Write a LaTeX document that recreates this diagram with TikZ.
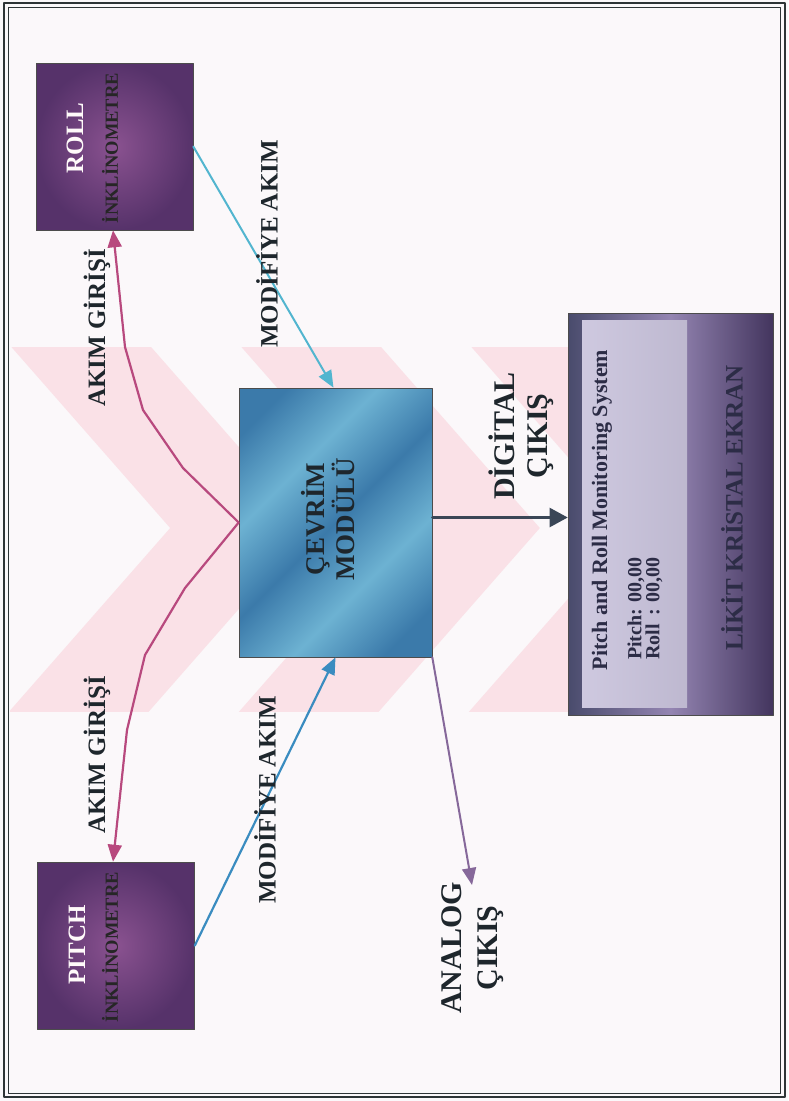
\documentclass[tikz,border=0pt]{standalone}
\usepackage{fontspec}
\setmainfont{Liberation Serif}
\usetikzlibrary{arrows.meta,calc,positioning}
\definecolor{cerceve}{HTML}{2E3436}
\definecolor{zemin}{HTML}{FBF8FA}
\definecolor{filigran}{HTML}{FAE1E7}
\definecolor{morkoyu}{HTML}{56326A}
\definecolor{moracik}{HTML}{8A5290}
\definecolor{cevrimkoyu}{HTML}{3B7AAA}
\definecolor{cevrimacik}{HTML}{6DB2D2}
\definecolor{ekrankoyu}{HTML}{494B6C}
\definecolor{ekranmor}{HTML}{43355E}
\definecolor{ekranacik}{HTML}{9485B2}
\definecolor{panel}{HTML}{CAC4DD}
\definecolor{akimrengi}{HTML}{B8497E}
\definecolor{rollmavi}{HTML}{52B5CF}
\definecolor{pitchmavi}{HTML}{3A8CC0}
\definecolor{dijital}{HTML}{3A4656}
\definecolor{analogrengi}{HTML}{86689A}
\definecolor{yazi}{HTML}{1E262C}
\definecolor{ekranyazi}{HTML}{2C2C46}
\pgfdeclarehorizontalshading{cevrimserit}{100bp}{color(0bp)=(cevrimkoyu); color(22bp)=(cevrimkoyu); color(36bp)=(cevrimacik); color(50bp)=(cevrimkoyu); color(64bp)=(cevrimacik); color(78bp)=(cevrimkoyu); color(100bp)=(cevrimkoyu)}

\begin{document}
\begin{tikzpicture}[x=1pt,y=-1pt,line cap=round,line join=round,
    kutu/.style={draw=black!70,line width=0.6pt,inner sep=0pt},
    inklino/.style={kutu,shading=radial,inner color=moracik,outer color=morkoyu,minimum width=157pt,minimum height=167pt},
    etiket/.style={rotate=90,font=\bfseries\fontsize{25}{28}\selectfont,text=yazi,align=center,inner sep=0pt},
    ok/.style={-{Triangle[length=17pt,width=14pt]}}]
    \useasboundingbox (0,0) rectangle (788,1101);
    \fill[zemin] (0,0) rectangle (788,1101);
    % filigran
    \begin{scope}
        \clip (10,347) rectangle (722,711);
        \foreach \tx in {240,470,700}{
            \draw[filigran,line width=105pt,line cap=butt,line join=miter] (\tx-200,300)--(\tx,528)--(\tx-200,756);
        }
    \end{scope}
    \draw[cerceve,line width=1.6pt] (4,3) rectangle (785,1097);
    \draw[cerceve,line width=0.7pt] (8,7) rectangle (780,1093);

    \node[inklino] (roll) at (114.5,146.5) {};
    \node[inklino] (pitch) at (116,945.5) {};
    \node[kutu,shading=cevrimserit,shading angle=-45,minimum width=193pt,minimum height=269pt] (cevrim) at (335.5,522.5) {};
    \node[kutu,left color=ekrankoyu,right color=ekranmor,middle color=ekranacik,minimum width=205pt,minimum height=402pt] (lcd) at (670.5,514) {};
    \node[inner sep=0pt,left color=panel!92!white,right color=panel!94!black,minimum width=105pt,minimum height=387pt] (panel) at (634.5,513.5) {};

    \node[etiket,text=white!92!pink] (rolladi) at (75,138) {ROLL};
    \node[etiket,font=\bfseries\fontsize{18.5}{20}\selectfont,text=black!85] (rollalt) at (110,148) {İNKLİNOMETRE};
    \node[etiket,text=white!92!pink] (pitchadi) at (77,945) {PITCH};
    \node[etiket,font=\bfseries\fontsize{18.5}{20}\selectfont,text=black!85] (pitchalt) at (110,947) {İNKLİNOMETRE};
    \node[etiket,font=\bfseries\fontsize{27}{30}\selectfont] (cevrimyazi) at (328,519) {ÇEVRİM\\MODÜLÜ};

    \node[etiket,font=\bfseries\fontsize{22}{24}\selectfont,text=ekranyazi] (baslik) at (602,510) {Pitch and Roll Monitoring System};
    \node[etiket,anchor=west,align=left,font=\bfseries\fontsize{20}{15}\selectfont,text=ekranyazi] (degerler) at (645,660) {Pitch: 00,00\\Roll\hspace{0.44em}: 00,00};
    \node[etiket,text=ekranyazi] (ekranadi) at (732,508) {LİKİT KRİSTAL EKRAN};

    \draw[akimrengi,line width=2.2pt,{Triangle[length=17pt,width=14pt]}-{Triangle[length=17pt,width=14pt]}] ([xshift=-3pt]pitch.north)--(127,730)--(145,655)--(185,588)--(cevrim.west)--(183,468)--(143,410)--(125,347)--([xshift=-1.5pt]roll.south);
    \draw[ok,rollmavi,line width=2pt] (roll.east)--([xshift=-2pt]cevrim.north);
    \draw[ok,pitchmavi,line width=2.2pt] (pitch.east)--(cevrim.south);
    \draw[dijital,line width=2.2pt,-{Triangle[length=18pt,width=19pt]}] ([yshift=5pt]cevrim.east)--([yshift=5pt]cevrim.east -| lcd.west);
    \coordinate (analoguc) at (472,885);
    \draw[ok,analogrengi,line width=2pt] (cevrim.south east)--(analoguc);

    \node[etiket] (akimust) at (97,328) {AKIM GİRİŞİ};
    \node[etiket] (akimalt) at (97,755) {AKIM GİRİŞİ};
    \node[etiket] (modust) at (267,244) {MODİFİYE AKIM};
    \node[etiket] (modalt) at (265,800) {MODİFİYE AKIM};
    \node[etiket,font=\bfseries\fontsize{30}{33}\selectfont] (dijitalcikis) at (521,436) {DİGİTAL\\ÇIKIŞ};
    \node[etiket,font=\bfseries\fontsize{30}{36}\selectfont] (analogcikis) at (473,948) {ANALOG\\ÇIKIŞ};
\end{tikzpicture}
\end{document}
